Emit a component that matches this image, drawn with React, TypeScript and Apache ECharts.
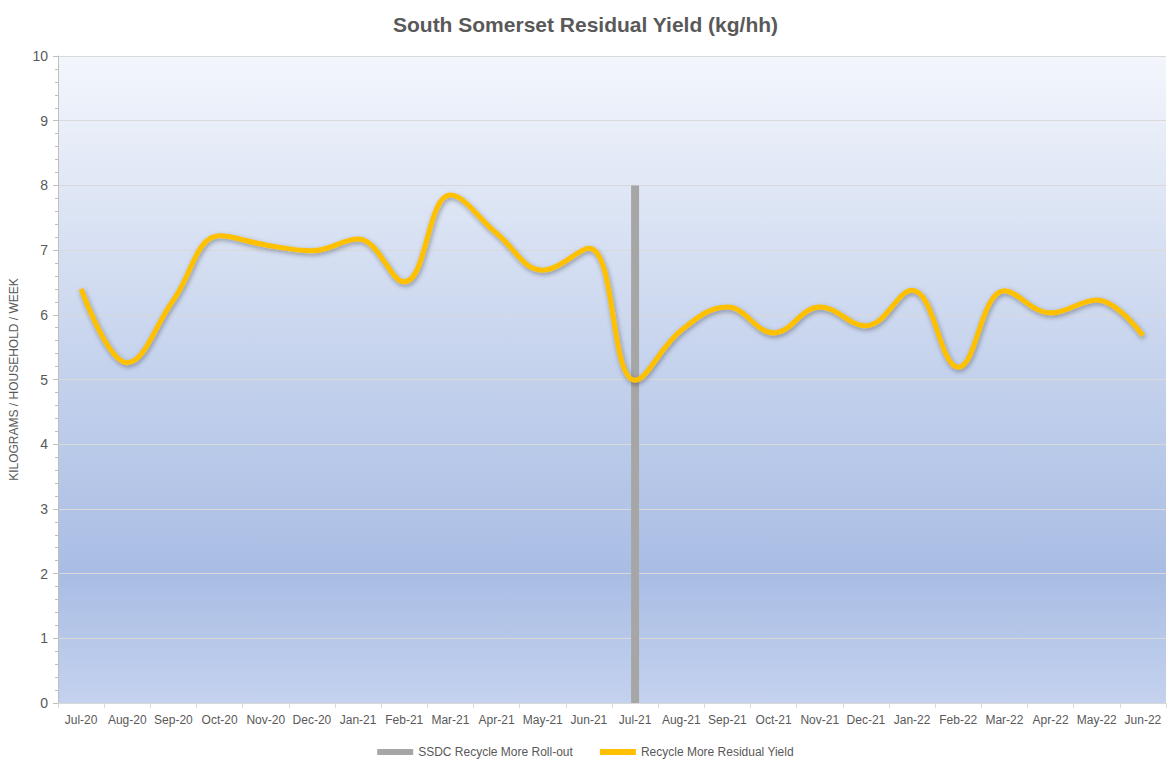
import React, { useEffect, useRef } from "react";
import * as echarts from "echarts";

const categories = [
  "Jul-20", "Aug-20", "Sep-20", "Oct-20", "Nov-20", "Dec-20",
  "Jan-21", "Feb-21", "Mar-21", "Apr-21", "May-21", "Jun-21",
  "Jul-21", "Aug-21", "Sep-21", "Oct-21", "Nov-21", "Dec-21",
  "Jan-22", "Feb-22", "Mar-22", "Apr-22", "May-22", "Jun-22",
];

const residualYield = [
  6.40, 5.26, 6.23, 7.22, 7.08, 6.99,
  7.17, 6.51, 7.85, 7.26, 6.69, 7.03,
  4.99, 5.76, 6.12, 5.72, 6.12, 5.83,
  6.38, 5.19, 6.37, 6.03, 6.23, 5.68,
];

const rollout = [
  null, null, null, null, null, null,
  null, null, null, null, null, null,
  8, null, null, null, null, null,
  null, null, null, null, null, null,
];

const yTicks = { min: 0, max: 10, interval: 1 };

const FONT = "'Liberation Sans Narrow', 'Liberation Sans', Arial, sans-serif";

export default function App() {
  const ref = useRef<HTMLDivElement>(null);
  useEffect(() => {
    if (!ref.current) return;
    const chart = echarts.init(ref.current, undefined, { renderer: "svg" });
    chart.setOption({
      animation: false,
      backgroundColor: "#ffffff",
      title: {
        text: "South Somerset Residual Yield (kg/hh)",
        left: "center",
        top: 9,
        textStyle: {
          fontFamily: "'Liberation Sans', Arial, sans-serif",
          fontWeight: "bold",
          fontSize: 21,
          color: "#595959",
        },
      },
      legend: {
        bottom: 1,
        left: "center",
        itemGap: 27,
        itemWidth: 36,
        itemHeight: 6,
        textStyle: { fontFamily: FONT, fontSize: 12, color: "#595959" },
        data: [
          { name: "SSDC Recycle More Roll-out", icon: "rect" },
          { name: "Recycle More Residual Yield", icon: "rect" },
        ],
      },
      grid: {
        left: 56,
        right: 5,
        top: 56,
        bottom: 61,
        show: true,
        borderWidth: 0,
        backgroundColor: new echarts.graphic.LinearGradient(0, 0, 0, 1, [
          { offset: 0, color: "#f3f6fc" },
          { offset: 0.5, color: "#c3d1ec" },
          { offset: 0.8, color: "#a9bde4" },
          { offset: 1, color: "#c4d2ee" },
        ]),
      },
      xAxis: {
        type: "category",
        data: categories,
        boundaryGap: true,
        axisLine: { show: true, lineStyle: { color: "#d9d9d9" } },
        axisTick: { show: true, alignWithLabel: false, length: 5, lineStyle: { color: "#d9d9d9" } },
        axisLabel: {
          interval: 0,
          margin: 11,
          fontFamily: FONT,
          fontSize: 12,
          color: "#595959",
        },
      },
      yAxis: {
        type: "value",
        min: yTicks.min,
        max: yTicks.max,
        interval: yTicks.interval,
        name: "KILOGRAMS / HOUSEHOLD / WEEK",
        nameLocation: "middle",
        nameRotate: 90,
        nameGap: 38,
        nameTextStyle: { fontFamily: FONT, fontSize: 12, color: "#595959" },
        axisLine: { show: true, lineStyle: { color: "#bfbfbf" } },
        axisTick: { show: true, length: 5, lineStyle: { color: "#bfbfbf" } },
        minorTick: { show: true, splitNumber: 5, length: 3, lineStyle: { color: "#bfbfbf" } },
        axisLabel: { margin: 10, fontFamily: FONT, fontSize: 14, color: "#595959" },
        splitLine: { show: true, lineStyle: { color: "#d9d9d9", width: 1 } },
      },
      series: [
        {
          name: "SSDC Recycle More Roll-out",
          type: "bar",
          data: rollout,
          barWidth: 8,
          itemStyle: { color: "#a6a6a6" },
          z: 2,
        },
        {
          name: "Recycle More Residual Yield",
          type: "line",
          data: residualYield,
          smooth: 0.4,
          symbol: "none",
          lineStyle: {
            color: "#ffc000",
            width: 5,
            shadowColor: "rgba(0,0,0,0.35)",
            shadowBlur: 5,
            shadowOffsetY: 2,
            shadowOffsetX: 1,
          },
          itemStyle: { color: "#ffc000" },
          z: 3,
        },
      ],
    });
    return () => chart.dispose();
  }, []);
  return (
    <div
      ref={ref}
      style={{ position: "fixed", left: 0, top: 0, width: 1171, height: 764 }}
    />
  );
}
